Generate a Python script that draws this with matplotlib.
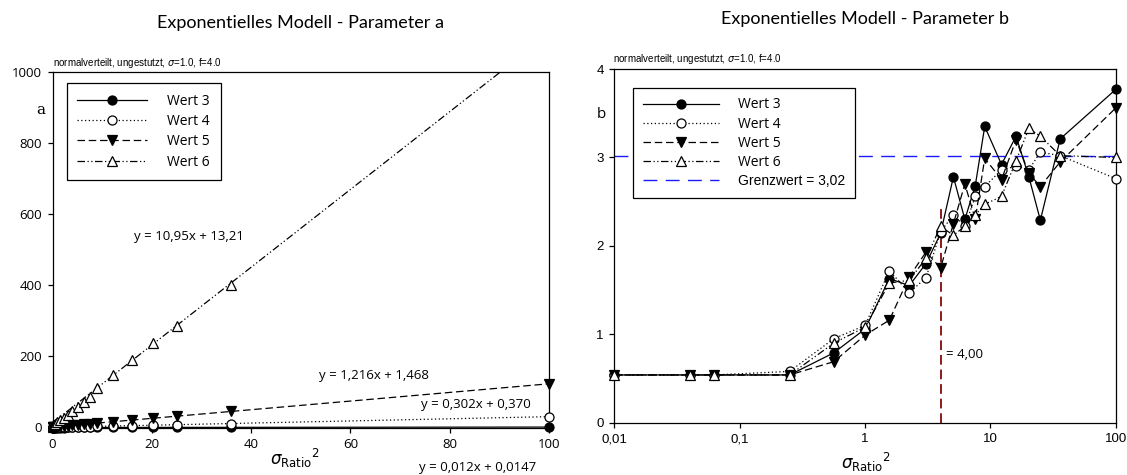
import matplotlib
matplotlib.use("Agg")
import matplotlib.pyplot as plt
import numpy as np

# sigma_ratio^2 values
x_vals = [0.01, 0.04, 0.0625, 0.25, 0.5625, 1, 1.5625, 2.25, 3.0625, 4,
          5.0625, 6.25, 7.5625, 9, 12.25, 16, 20.25, 25, 36, 100]
series = ["Wert 3", "Wert 4", "Wert 5", "Wert 6"]

# parameter a (left chart)
a_w3 = [0.0, 0.0, 0.0, 0.0, 0.0, 0.0, 0.0, 0.0, 0.1, 0.1,
        0.1, 0.1, 0.1, 0.1, 0.2, 0.2, 0.3, 0.3, 0.4, 1.2]
a_w4 = [0.4, 0.4, 0.4, 0.4, 0.5, 0.7, 0.8, 1.0, 1.3, 1.6,
        1.9, 2.3, 2.6, 3.1, 4.0, 5.2, 6.5, 7.9, 11.2, 30.6]
a_w5 = [1.5, 1.5, 1.5, 1.8, 2.1, 2.7, 3.4, 4.2, 5.2, 6.3,
        7.6, 9.1, 10.7, 12.4, 16.4, 21.0, 26.1, 31.9, 45.2, 123.0]
a_w6 = [2, 3, 3, 6, 10, 15, 21, 28, 36, 46,
        58, 71, 85, 112, 147, 191, 238, 286, 400, 1108]
fit_slope = [0.012, 0.302, 1.216, 10.95]
fit_icpt = [0.0147, 0.370, 1.468, 13.21]
fit_text = ["y = 0,012x + 0,0147", "y = 0,302x + 0,370",
            "y = 1,216x + 1,468", "y = 10,95x + 13,21"]

# parameter b (right chart)
b_w3 = [0.54, 0.54, 0.54, 0.54, 0.79, 1.06, 1.63, 1.55, 1.80, 2.14,
        2.78, 2.30, 2.68, 3.35, 2.92, 3.24, 2.78, 2.29, 3.21, 3.77]
b_w4 = [0.54, 0.54, 0.54, 0.58, 0.95, 1.10, 1.72, 1.47, 1.64, 2.16,
        2.35, 2.22, 2.56, 2.67, 2.86, 2.90, 2.86, 3.06, 3.02, 2.76]
b_w5 = [0.54, 0.54, 0.54, 0.54, 0.69, 0.99, 1.16, 1.65, 1.93, 1.75,
        2.25, 2.70, 2.30, 2.99, 2.75, 3.20, 2.82, 2.67, 2.95, 3.56]
b_w6 = [0.54, 0.54, 0.54, 0.54, 0.90, 1.08, 1.58, 1.61, 1.86, 2.22,
        2.12, 2.22, 2.35, 2.47, 2.56, 2.96, 3.33, 3.24, 3.02, 3.00]
grenzwert = 3.02
x_mark = 4.0
x_mark_top = 2.46

styles = [
    dict(ls="-", marker="o", mfc="black"),
    dict(ls=(0, (1, 2)), marker="o", mfc="white"),
    dict(ls=(0, (6, 3)), marker="v", mfc="black"),
    dict(ls=(0, (6, 2, 1, 2, 1, 2)), marker="^", mfc="white"),
]

fig = plt.figure(figsize=(11.27, 4.75), dpi=100)
axa = fig.add_axes([0.0466, 0.100, 0.4406, 0.7478])
axb = fig.add_axes([0.5451, 0.1101, 0.4450, 0.7446])

tickfont = "Liberation Sans"
a_max = 1000

# ---- left: parameter a
xx = np.array([0, 100])
a_data = [a_w3, a_w4, a_w5, a_w6]
for i in range(4):
    st = styles[i]
    axa.plot(xx, fit_slope[i] * xx + fit_icpt[i], color="black", lw=0.9,
             ls=st["ls"], zorder=2)
    # markers may sit on the frame, so no clipping; skip points above the range
    px = [x for x, y in zip(x_vals, a_data[i]) if y <= a_max]
    py = [y for y in a_data[i] if y <= a_max]
    axa.plot(px, py, ls="none", marker=st["marker"], ms=6.5,
             mfc=st["mfc"], mec="black", mew=0.9, zorder=3, clip_on=False)
# legend proxies
hs = []
for i in range(4):
    st = styles[i]
    h, = axa.plot([], [], color="black", lw=0.9, ls=st["ls"], marker=st["marker"],
                  ms=6.5, mfc=st["mfc"], mec="black", mew=0.9)
    hs.append(h)
leg = axa.legend(hs, series, loc="upper left", bbox_to_anchor=(0.0286, 0.969),
                 borderaxespad=0, frameon=True, fancybox=False, framealpha=1,
                 edgecolor="black", handlelength=5.0, handletextpad=1.5,
                 borderpad=0.75, labelspacing=0.38,
                 prop=dict(family="Open Sans", size=10))
leg.get_frame().set_linewidth(0.9)

axa.set_xlim(0, 100)
axa.set_ylim(0, a_max)
axa.set_xticks([0, 20, 40, 60, 80, 100])
axa.set_yticks([0, 200, 400, 600, 800, 1000])
for lab in axa.get_xticklabels() + axa.get_yticklabels():
    lab.set_family("Open Sans")
    lab.set_fontsize(9.5)

axa.text(27.5, 539, fit_text[3], ha="center", va="center",
         family="Open Sans", fontsize=9.5)
axa.text(64.7, 145, fit_text[2], ha="center", va="center",
         family="Open Sans", fontsize=9.5)
axa.text(85.2, 65, fit_text[1], ha="center", va="center",
         family="Open Sans", fontsize=9.5)
axa.text(85.7, -113, fit_text[0], ha="center", va="center",
         family="Open Sans", fontsize=9.5, clip_on=False)
axa.text(-0.024, 0.895, "a", transform=axa.transAxes, ha="center", va="center",
         family="DejaVu Serif", fontsize=11)

# ---- right: parameter b
b_data = [b_w3, b_w4, b_w5, b_w6]
hs = []
for i in range(4):
    st = styles[i]
    h, = axb.plot(x_vals, b_data[i], color="black", lw=0.9, ls=st["ls"],
                  marker=st["marker"], ms=6.5, mfc=st["mfc"], mec="black",
                  mew=0.9, zorder=3, clip_on=False)
    hs.append(h)
hg = axb.axhline(grenzwert, color="#1a1aff", lw=1.0, ls=(0, (10, 6)), zorder=1)
axb.plot([x_mark, x_mark], [0, x_mark_top], color="#8b1a1a", lw=1.4,
         ls=(0, (5, 2.5)), zorder=2)
axb.text(4.45, 0.77, "= 4,00", ha="left", va="center", family="Open Sans",
         fontsize=9.5)
leg = axb.legend(hs + [hg], series + ["Grenzwert = " + str(grenzwert).replace(".", ",")],
                 loc="upper left", bbox_to_anchor=(0.0379, 0.947),
                 borderaxespad=0, frameon=True, fancybox=False, framealpha=1,
                 edgecolor="black", handlelength=5.5, handletextpad=1.35,
                 borderpad=0.7, labelspacing=0.3,
                 prop=dict(family="Open Sans", size=10))
leg.get_frame().set_linewidth(0.9)
leg.get_texts()[-1].set_family("Liberation Sans")

axb.set_xscale("log")
axb.set_xlim(0.01, 100)
axb.set_ylim(0, 4)
axb.set_xticks([0.01, 0.1, 1, 10, 100])
axb.set_xticklabels(["0,01", "0,1", "1", "10", "100"])
axb.xaxis.set_minor_locator(matplotlib.ticker.NullLocator())
axb.set_yticks([0, 1, 2, 3, 4])
for lab in axb.get_xticklabels() + axb.get_yticklabels():
    lab.set_family(tickfont)
    lab.set_fontsize(9.5)
axb.text(-0.025, 0.87, "b", transform=axb.transAxes, ha="center", va="center",
         family="Open Sans", fontsize=11)

for ax in (axa, axb):
    for sp in ax.spines.values():
        sp.set_linewidth(0.9)
    ax.tick_params(direction="out", length=3.5, width=0.9, top=False,
                   right=False, pad=4)

# titles, notes, axis labels
fig.text(0.267, 1 - 23 / 475, "Exponentielles Modell - Parameter a",
         ha="center", va="center", family="Lato", fontsize=13)
fig.text(0.7675, 1 - 19 / 475, "Exponentielles Modell - Parameter b",
         ha="center", va="center", family="Lato", fontsize=13)
note = "normalverteilt, ungestutzt, $\\sigma$=1.0, f=4.0"
fig.text(53 / 1127, 1 - 62.5 / 475, note, ha="left", va="center",
         family="Liberation Sans", fontsize=7)
fig.text(613 / 1127, 1 - 59 / 475, note, ha="left", va="center",
         family="Liberation Sans", fontsize=7)
xlab = r"$\sigma_{\mathrm{Ratio}}{}^{2}$"
fig.text(295 / 1127, 1 - 458 / 475, xlab, ha="center", va="center", fontsize=12)
fig.text(866 / 1127, 1 - 462 / 475, xlab, ha="center", va="center", fontsize=12)

fig.savefig("out.png", dpi=100)
